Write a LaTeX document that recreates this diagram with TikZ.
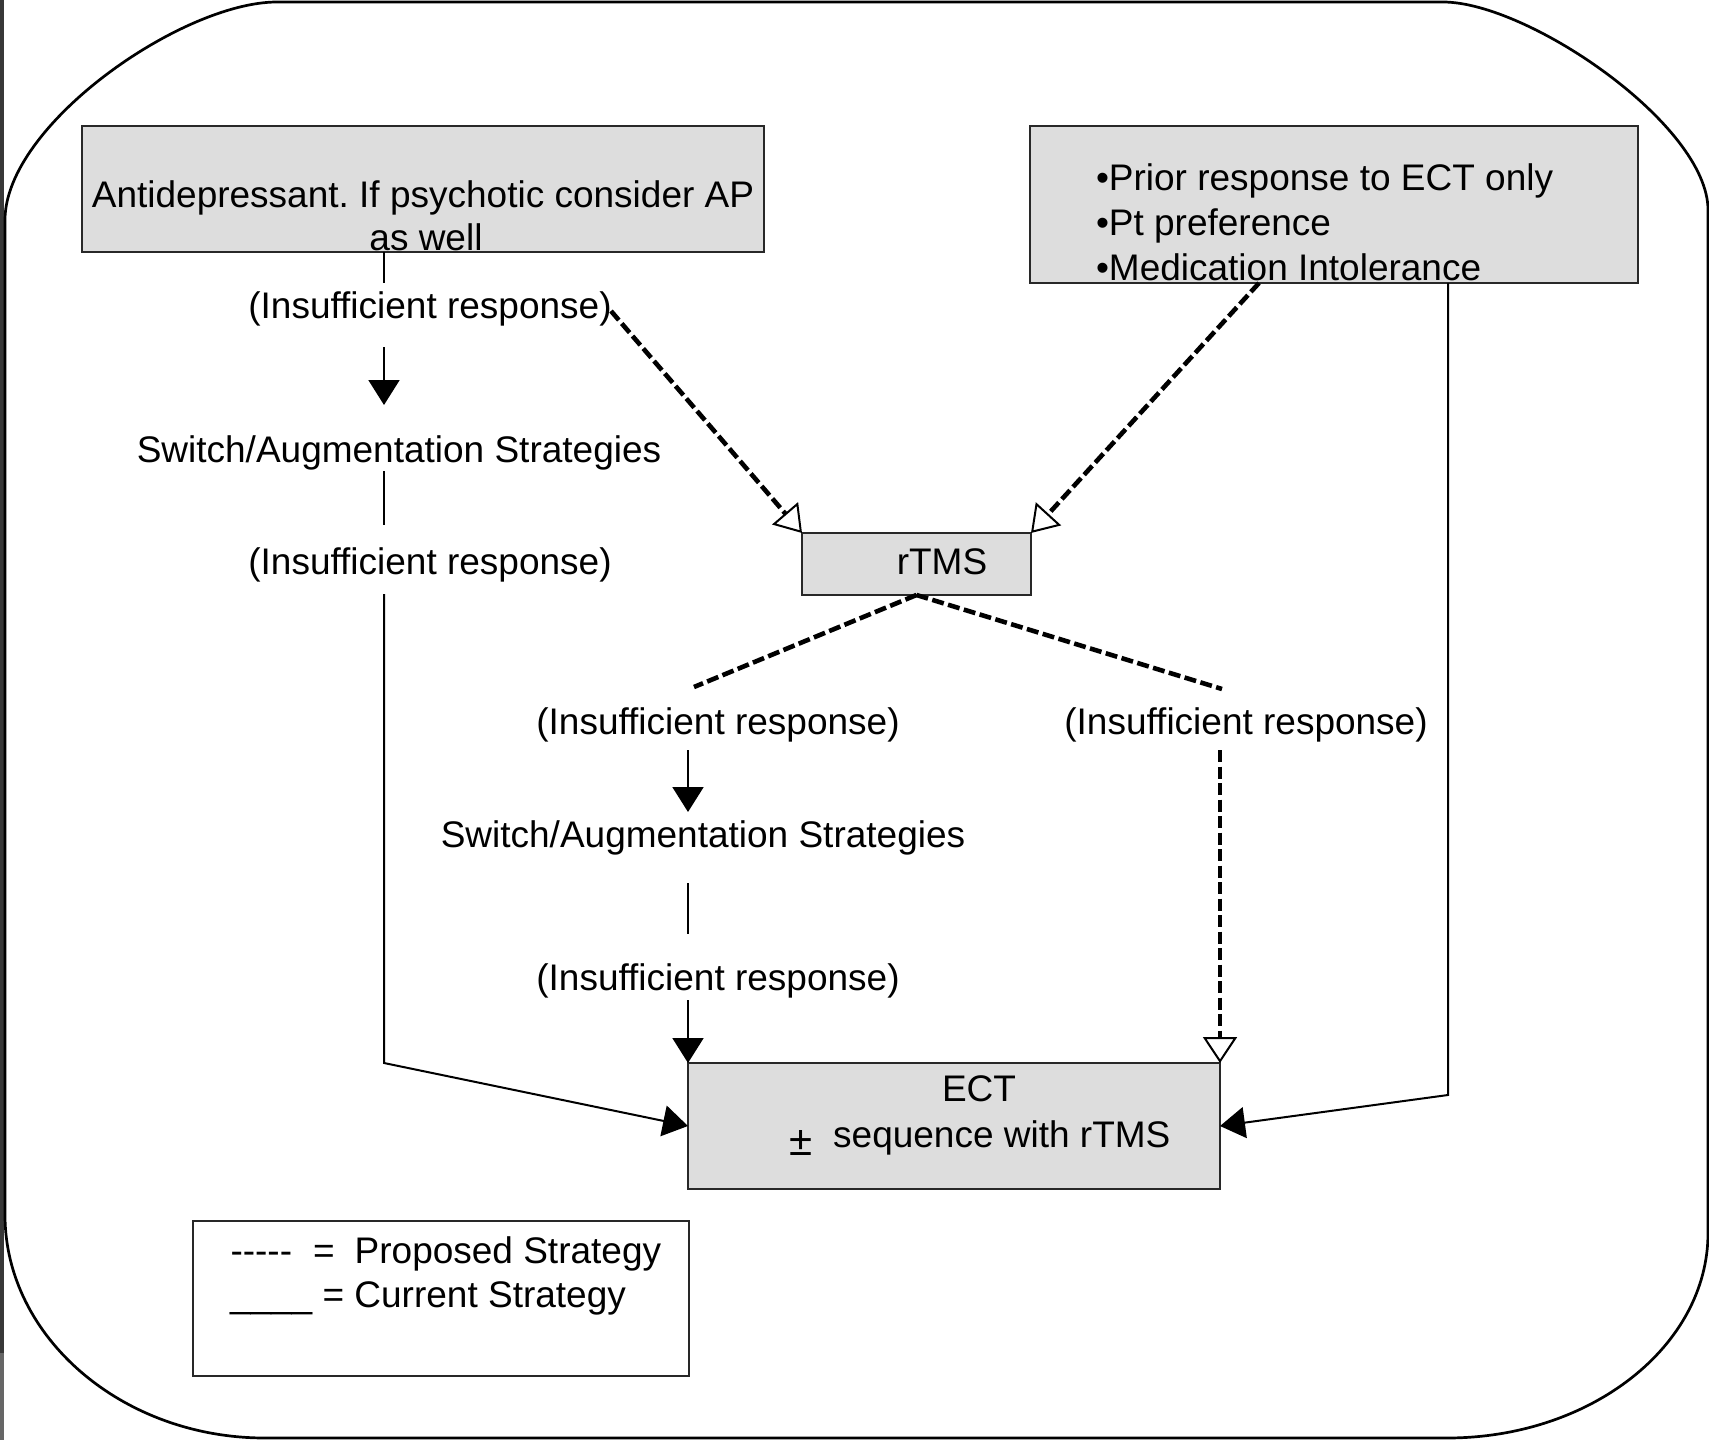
\documentclass[tikz,border=0pt]{standalone}
\usepackage{fontspec}
\newfontfamily\af{Liberation Sans}
\usetikzlibrary{arrows.meta}
\definecolor{boxfill}{RGB}{221,221,221}
\definecolor{edge}{RGB}{40,40,40}
\frenchspacing
\begin{document}
\begin{tikzpicture}[x=1pt,y=-1pt,
  txt/.style={font=\af\fontsize{37pt}{44.5pt}\selectfont, inner sep=0pt, outer sep=0pt},
  box/.style={draw=edge, line width=2.2pt, fill=boxfill, inner sep=0pt, outer sep=0pt},
  plainbox/.style={draw=edge, line width=2.2pt, inner sep=0pt, outer sep=0pt},
  conn/.style={line width=2pt, black},
  prop/.style={line width=4.6pt, black, dash pattern=on 12pt off 4.5pt},
  filled/.style={-{Triangle[length=25pt,width=31pt]}},
  hollow/.style={-{Triangle[open,length=26pt,width=34pt,line width=2pt]}},
]
\useasboundingbox (0,0) rectangle (1709,1440);
\fill[white] (0,0) rectangle (1709,1440);
% scan strip on the left edge
\fill[black!78] (0,0) rectangle (3.5,1353);
\fill[black!60] (0,1353) rectangle (3.5,1440);
% outer frame
\draw[line width=2.7pt, black]
  (277,2) -- (1443,2) .. controls (1528,2) and (1708,125) .. (1708,210)
  -- (1708,1233) .. controls (1708,1346) and (1591,1438) .. (1447,1438)
  -- (265,1438) .. controls (122,1438) and (5,1337) .. (5,1215)
  -- (5,220) .. controls (5,125) and (182,2) .. (277,2) -- cycle;

% boxes
\node[box, minimum width=682pt, minimum height=126pt] (box1) at (423,189) {};
\node[box, minimum width=608pt, minimum height=157pt] (box2) at (1334,204.5) {};
\node[box, minimum width=229pt, minimum height=62pt] (rtms) at (916.5,564) {};
\node[box, minimum width=532pt, minimum height=126pt] (ect) at (954,1126) {};
\node[plainbox, minimum width=496pt, minimum height=155pt] (legend) at (441,1298.5) {};

% texts
\node[txt,anchor=base] (t1a) at (423,207) {Antidepressant. If psychotic consider AP};
\node[txt,anchor=base] (t1b) at (426,250) {as well};
\node[txt,anchor=base west] (t2a) at (1096,190) {•Prior response to ECT only};
\node[txt,anchor=base west] (t2b) at (1096,235) {•Pt preference};
\node[txt,anchor=base west] (t2c) at (1096,280) {•Medication Intolerance};
\node[txt,anchor=base] (rt) at (942,574) {rTMS};
\node[txt,anchor=base] (ins1) at (430,318) {(Insufficient response)};
\node[txt,anchor=base] (sw1) at (399,462) {Switch/Augmentation Strategies};
\node[txt,anchor=base] (ins2) at (430,574) {(Insufficient response)};
\node[txt,anchor=base] (ins3) at (718,734) {(Insufficient response)};
\node[txt,anchor=base] (ins4) at (1246,734) {(Insufficient response)};
\node[txt,anchor=base] (sw2) at (703,847) {Switch/Augmentation Strategies};
\node[txt,anchor=base] (ins5) at (718,990) {(Insufficient response)};
\node[txt,anchor=base] (e1) at (979,1101) {ECT};
\node[txt,anchor=base] (e2) at (980,1147) {\raisebox{-8pt}{\fontsize{42pt}{44pt}\selectfont ±}\ \ sequence with rTMS};
\node[txt,anchor=base west] (l1) at (230.5,1263) {-----\hspace{21pt}=\hspace{20pt}Proposed Strategy};
\node[txt,anchor=base west] (l2) at (230,1307) {\_\_\_\_ = Current Strategy};

% current strategy connectors
\coordinate (a1) at (384,283);
\draw[conn] (box1.south -| a1) -- (a1);
\coordinate (b0) at (384,347);
\coordinate (b1) at (384,405);
\draw[conn,filled] (b0) -- (b1);
\coordinate (c0) at (384,471);
\coordinate (c1) at (384,525);
\draw[conn] (c0) -- (c1);
\coordinate (d0) at (384,594);
\coordinate (d1) at (384,1063);
\draw[conn,filled] (d0) -- (d1) -- (ect.west);
\coordinate (r0) at (1448,1095);
\draw[conn,filled] (box2.south -| r0) -- (r0) -- (ect.east);
\coordinate (u0) at (688,750);
\coordinate (u1) at (688,812);
\draw[conn,filled] (u0) -- (u1);
\coordinate (v0) at (688,883);
\coordinate (v1) at (688,934);
\draw[conn] (v0) -- (v1);
\coordinate (w0) at (688,1000);
\draw[conn,filled] (ect.north west |- w0) -- (ect.north west);

% proposed strategy connectors
\coordinate (p0) at (611,311);
\draw[prop,hollow] (p0) -- (rtms.north west);
\coordinate (p1) at (1259,283);
\draw[prop,hollow] (box2.south -| p1) -- (rtms.north east);
\coordinate (q0) at (694,687);
\coordinate (q1) at (1222,689);
\draw[prop] (rtms.south) -- (q0);
\draw[prop] (rtms.south) -- (q1);
\coordinate (s0) at (1220,750);
\draw[prop,hollow] (ect.north east |- s0) -- (ect.north east);
\end{tikzpicture}
\end{document}
